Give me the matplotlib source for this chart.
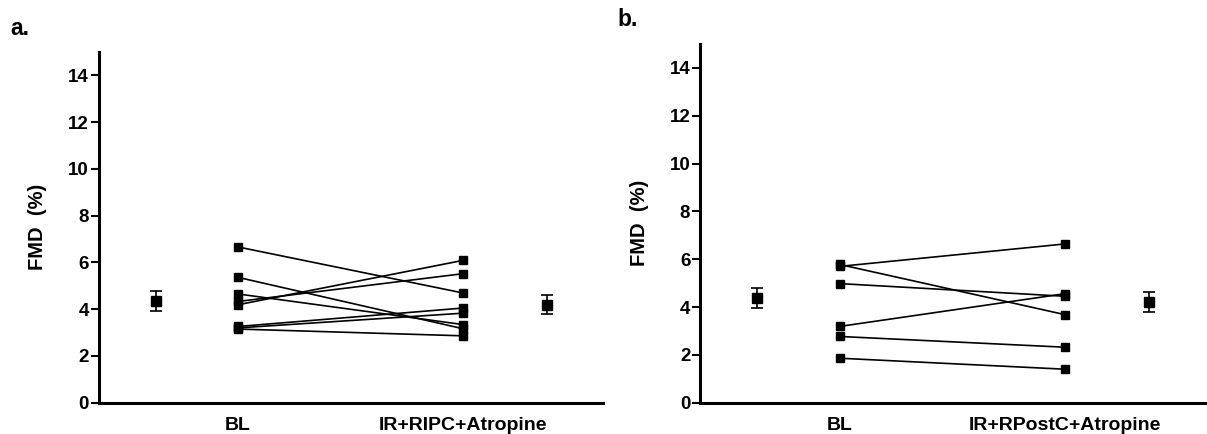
import matplotlib
matplotlib.use("Agg")
import matplotlib.pyplot as plt
import numpy as np

plt.rcParams['font.family'] = ['Liberation Sans', 'DejaVu Sans']
plt.rcParams['font.weight'] = 'bold'

# ---- data ----
categories_a = ["BL", "IR+RIPC+Atropine"]
bl_a = [6.66, 5.36, 4.65, 4.33, 4.19, 3.26, 3.20, 3.15]
ir_a = [4.69, 3.16, 3.34, 5.52, 6.09, 4.05, 3.83, 2.86]
mean_a = [4.36, 4.19]
sem_a = [0.43, 0.40]

categories_b = ["BL", "IR+RPostC+Atropine"]
bl_b = [5.70, 5.78, 4.98, 3.19, 2.77, 1.86]
ir_b = [6.64, 3.68, 4.45, 4.56, 2.32, 1.40]
mean_b = [4.38, 4.21]
sem_b = [0.43, 0.41]

yticks = [0, 2, 4, 6, 8, 10, 12, 14]

W, H = 1207, 434
fig = plt.figure(figsize=(W / 100, H / 100), dpi=100)


def panel(rect, cats, bl, ir, means, sems, letter, letter_xy):
    ax = fig.add_axes(rect)
    xpos = np.arange(1, len(cats) + 1)
    for a, b in zip(bl, ir):
        ax.plot(xpos, [a, b], color='black', lw=1.2, marker='s', ms=6,
                mfc='black', mec='black', zorder=3)
    mean_x = [xpos[0] - 0.366, xpos[-1] + 0.37]
    ax.errorbar(mean_x, means, yerr=sems, fmt='s', color='black', ms=7.5,
                capsize=4.5, elinewidth=1.2, capthick=1.2, zorder=3)
    ax.set_xlim(0.38, 2.62)
    ax.set_ylim(0, 15)
    ax.set_yticks(yticks)
    ax.set_xticks(xpos)
    ax.set_xticklabels(cats, fontsize=14, fontweight='bold')
    ax.tick_params(axis='y', labelsize=13.5, length=6, width=1.5, pad=1)
    ax.tick_params(axis='x', length=0, pad=10)
    for t in ax.get_yticklabels():
        t.set_fontweight('bold')
    for s in ['top', 'right']:
        ax.spines[s].set_visible(False)
    for s in ['left', 'bottom']:
        ax.spines[s].set_linewidth(2.2)
    ax.set_ylabel("FMD  (%)", fontsize=14.5, fontweight='bold', labelpad=15)
    fig.text(letter_xy[0] / W, 1 - letter_xy[1] / H, letter, fontsize=16.5,
             fontweight='bold', ha='left', va='baseline')
    return ax


ax1 = panel([98.5 / W, (H - 402.7) / H, 504.5 / W, 350.7 / H],
            categories_a, bl_a, ir_a, mean_a, sem_a, "a.", (10, 35))
ax2 = panel([700 / W, (H - 402.7) / H, 505 / W, 358.7 / H],
            categories_b, bl_b, ir_b, mean_b, sem_b, "b.", (617, 26))

fig.savefig("out.png", dpi=100)
